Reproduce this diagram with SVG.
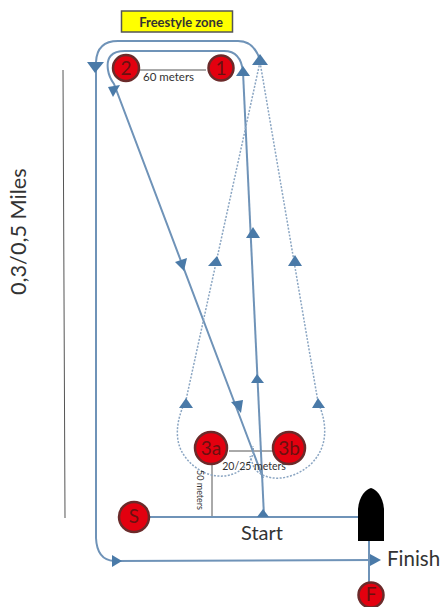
<svg xmlns="http://www.w3.org/2000/svg" width="443" height="607" viewBox="0 0 443 607">
<style>
text{font-family:"Lato","Open Sans","Liberation Sans",sans-serif;fill:#333}
.m circle{fill:#e3000f;stroke:#6b2a2a;stroke-width:2.500}
.m text{font-size:19px;text-anchor:middle;fill:#6a1010}
.c path,.c line{fill:none;stroke:#6f93b8;stroke-width:2}
.d path{fill:none;stroke:#8aa5c2;stroke-width:1.500;stroke-dasharray:2 1.500}
.t polygon{fill:#4a7aa8}
.k line{stroke:#555;stroke-width:1}
</style>
<rect width="443" height="607" fill="#fff"/>
<g id="zone"><rect x="121.500" y="11" width="111" height="21" fill="#ffff00" stroke="#555" stroke-width="1.500"/><text x="181" y="27" font-size="13" font-weight="700" text-anchor="middle" fill="#222">Freestyle zone</text></g>
<g id="connectors">
<g class="k"><line x1="63" y1="70" x2="65" y2="518"/><line x1="140" y1="70" x2="206" y2="70"/><line x1="229" y1="451" x2="273" y2="451"/><line x1="212" y1="465" x2="212" y2="516"/></g>
<g class="c">
<path d="M96 62V538Q97 560 114 561L375 560"/>
<path d="M96 62Q97 41 118 41H238Q254 41 260 60"/>
<path d="M243 72Q241 51 224 51H125Q105 51 108 70Q109 77 114 84L263 478"/>
<path d="M243 72L264 516"/>
<line x1="150" y1="517" x2="360" y2="517"/>
<line x1="369" y1="540" x2="369" y2="585"/>
</g>
<g class="d">
<path d="M260 62L186 400C176 420 173 442 186 458C200 476 226 484 246 466C252 460 254 452 253 446"/>
<path d="M260 62L318 402C328 425 328 448 310 465C290 482 265 482 254 468L250 456"/>
</g>
<g class="t">
<polygon points="87,62 104,62 95,73"/><polygon points="252,65 268,65 260,54"/><polygon points="236,76 250,76 243,66"/>
<polygon points="108,87 120,85 113,97"/><polygon points="175,262 187,258 184,271"/><polygon points="231,402 243,400 241,413"/>
<polygon points="208,266 222,266 217,256"/><polygon points="246,238 260,238 253,227"/><polygon points="288,266 302,266 295,255"/><polygon points="251,383 264,383 257,374"/><polygon points="179,408 193,408 186,398"/><polygon points="312,408 325,408 318,398"/><polygon points="257,517 269,517 263,509"/>
<polygon points="112,555 112,567 122,561"/><polygon points="370,554 370,566 381,560"/>
</g>
</g>
<g id="node-2" class="m"><circle cx="126" cy="68" r="13"/><text x="126" y="75">2</text></g>
<g id="node-1" class="m"><circle cx="221" cy="68" r="12.500"/><text x="221" y="75">1</text></g>
<g id="node-3a" class="m"><circle cx="211" cy="448" r="16"/><text x="211" y="455">3a</text></g>
<g id="node-3b" class="m"><circle cx="289" cy="448" r="16"/><text x="289" y="455">3b</text></g>
<g id="node-S" class="m"><circle cx="134" cy="517" r="15"/><text x="134" y="523">S</text></g>
<g id="node-F" class="m"><circle cx="371" cy="595" r="12.500"/><text x="371" y="601">F</text></g>
<g id="boat"><path d="M358 541V509C359 496 366 489 371 488C376 489 383 496 384 509V541Z" fill="#000"/></g>
<g id="labels">
<text x="143" y="81" font-size="11.500">60 meters</text>
<text x="254" y="470" font-size="10.500" text-anchor="middle">20/25 meters</text>
<text transform="translate(197,470) rotate(90)" font-size="9">50 meters</text>
<text x="262" y="540" font-size="20" text-anchor="middle">Start</text>
<text x="387" y="566" font-size="20.500">Finish</text>
<text transform="translate(26,295) rotate(-90)" font-size="21.700">0,3/0,5 Miles</text>
</g>
</svg>
